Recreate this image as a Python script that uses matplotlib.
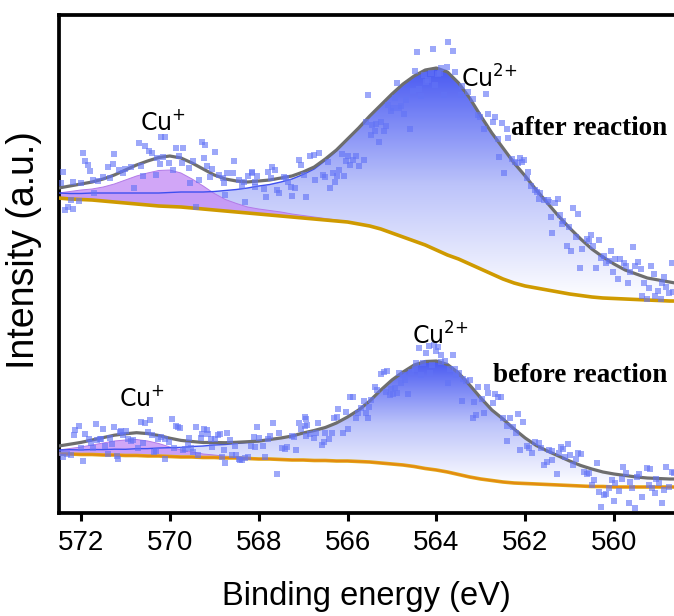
import numpy as np
import matplotlib
matplotlib.use('Agg')
import matplotlib.pyplot as plt
from matplotlib.colors import LinearSegmentedColormap

plt.rcParams['font.family'] = ['Liberation Sans', 'DejaVu Sans']
plt.rcParams['mathtext.fontset'] = 'dejavusans'

# ---------------- data ----------------
energy = np.linspace(572.5, 558.5, 57)   # binding energy grid (eV), 0.25 eV step

# after reaction: Shirley background, Cu+ component, Cu2+ component (heights above background)
bg_after = [317, 316, 315.5, 315, 314, 313, 312, 311, 310, 309, 308.5, 308, 307, 306, 305, 304, 303, 302, 301,
            300, 299, 298, 297, 296, 295, 294, 293, 291, 289, 286, 282, 278, 274, 270, 265, 260, 256, 251, 246,
            241, 236, 232, 229, 227, 225, 223, 221, 219.5, 218, 217, 216.5, 216, 215.5, 215, 214.5, 214, 214]
cu1_after = [5, 7.5, 9.5, 11, 14, 18, 23, 28, 32, 35.5, 36.5, 34, 29, 23, 16.5, 11.5, 8.5, 6, 5, 4.5, 4, 3, 2.5,
             2, 1.5, 1, 0.5] + [0] * 30
cu2_after = [5, 5.5, 6, 7, 8, 9, 10, 11, 12, 13, 14, 15, 16, 17, 18.5, 20.5, 22.5, 25, 28, 30.5, 34, 38, 43.5,
             50, 59.5, 70, 82.5, 96, 110, 124, 139, 153, 165, 175, 182, 183, 176, 166, 153, 141, 131, 120, 110,
             98, 87, 76, 66, 56.5, 48, 41, 34.5, 29, 25.5, 22, 20.5, 19, 17]

# before reaction
bg_before = [61, 61, 60.5, 60.5, 60, 60, 59.5, 59.5, 59, 59, 58.5, 58, 58, 57.5, 57.5, 57, 57, 56.5, 56, 56, 55.5,
             55, 55, 54.5, 54.5, 54, 54, 53.5, 53, 52, 51, 50, 48.5, 46.5, 45, 43, 40.5, 38, 36, 34.5, 33, 32,
             31.5, 31, 30.5, 30, 29.5, 29, 28.5, 28.5, 28, 28, 28, 28, 28, 28, 28]
cu1_before = [4, 5.5, 7.5, 9.5, 12, 14, 15.5, 16, 15, 12.5, 9.5, 7, 5, 3.5, 2.5, 1.8, 1.2, 0.8, 0.4] + [0] * 38
cu2_before = [4, 4.3, 4.6, 5, 5.4, 5.8, 6.2, 6.8, 7.4, 8, 8.8, 9.6, 10.5, 11.5, 12.5, 13.5, 14.5, 16, 17.5, 19.5,
              21.5, 24, 27, 30, 33, 38, 44, 51.5, 61, 73, 84, 93, 101.5, 107, 109, 107.5, 101.5, 92, 81, 70.5, 63,
              54, 45.5, 38.5, 33.5, 29, 24.5, 20.5, 17.5, 14.5, 13, 11.5, 10, 9, 8.5, 8, 8]

# measured points (after reaction)
after_pts = [
    (572.41, 343), (572.46, 332), (572.18, 333), (572.01, 332), (571.96, 362), (571.92, 354), (571.84, 350),
    (571.80, 344), (571.71, 322), (571.73, 335), (572.23, 315), (572.35, 305), (572.29, 308), (572.18, 306),
    (572.05, 314), (571.50, 338), (571.62, 334), (571.35, 337), (571.39, 348), (571.29, 351), (571.25, 361),
    (571.14, 345), (571.05, 342), (571.00, 346), (570.88, 348), (570.80, 327), (570.70, 372), (570.64, 349),
    (570.60, 339), (570.55, 369), (570.47, 364), (570.41, 362), (570.31, 340), (570.28, 357), (570.22, 351),
    (570.19, 378), (570.11, 378), (570.15, 358), (570.03, 352), (569.92, 345), (569.86, 367), (569.79, 359),
    (569.70, 367), (569.73, 352), (569.58, 347), (569.54, 332), (569.48, 354), (569.41, 308), (569.34, 335),
    (569.28, 373), (569.21, 370), (569.24, 357), (569.17, 349), (569.05, 346), (569.09, 338), (568.99, 363),
    (568.90, 340), (568.81, 337), (568.77, 332), (568.75, 320), (568.72, 342), (568.58, 342), (568.55, 354),
    (568.45, 335), (568.38, 329), (568.34, 333), (568.30, 313), (568.23, 339), (568.14, 342), (568.08, 333),
    (568.14, 343), (568.04, 339), (568.09, 328), (567.89, 326), (567.84, 318), (567.80, 343), (567.69, 348),
    (567.64, 345), (567.73, 337), (567.59, 325), (567.54, 322), (567.44, 338), (567.39, 337), (567.34, 333),
    (567.28, 328), (567.24, 319), (567.19, 327), (567.10, 355), (567.05, 350), (566.99, 340), (566.94, 318),
    (566.84, 359), (566.75, 360), (566.65, 362), (566.73, 335), (566.56, 340), (566.51, 338), (566.45, 353),
    (566.40, 327), (566.33, 342), (566.28, 333), (566.24, 339), (566.19, 345), (566.13, 361), (566.09, 339),
    (566.03, 354), (565.99, 359), (565.94, 350), (565.88, 355), (565.81, 359), (565.75, 349), (565.63, 355),
    (565.58, 393), (565.54, 420), (565.48, 380), (565.45, 390), (565.38, 384), (565.36, 391), (565.29, 373),
    (565.24, 393), (565.18, 384), (565.13, 389), (565.09, 410), (565.03, 404), (564.97, 407), (564.93, 417),
    (564.89, 432), (564.84, 407), (564.79, 409), (564.73, 401), (564.69, 415), (564.59, 386), (564.52, 424),
    (564.47, 444), (564.43, 463), (564.39, 426), (564.34, 419), (564.28, 440), (564.23, 433), (564.19, 435),
    (564.13, 442), (564.07, 466), (564.02, 430), (563.96, 441), (563.92, 442), (563.89, 447), (563.83, 420),
    (563.77, 448), (563.74, 473), (563.62, 464), (563.57, 443), (563.45, 420), (563.43, 429),
    (563.28, 423), (563.17, 416), (563.07, 400), (563.02, 398), (562.89, 421), (562.83, 401), (562.92, 386),
    (562.72, 393), (562.68, 398), (562.53, 392), (562.42, 386), (562.62, 376), (562.38, 377), (562.59, 358),
    (562.47, 342), (562.29, 356), (562.23, 353), (562.17, 352), (562.12, 357), (562.08, 353), (562.02, 355),
    (561.97, 337), (561.93, 343), (561.87, 329), (561.79, 325), (561.74, 323), (561.69, 316), (561.66, 322),
    (561.57, 315), (561.49, 315), (561.46, 313), (561.33, 312), (561.27, 316), (561.42, 298), (561.39, 282),
    (561.21, 300), (561.17, 291), (561.14, 294), (561.02, 288), (560.93, 307), (560.81, 301), (561.06, 269),
    (560.96, 264), (560.86, 278), (560.76, 247), (560.71, 266), (560.61, 276), (560.56, 274), (560.51, 280),
    (560.48, 269), (560.41, 247), (560.33, 275), (560.29, 257), (560.23, 259), (560.18, 252), (560.12, 254),
    (560.06, 264), (560.03, 243), (559.98, 256), (559.91, 236), (559.86, 256), (559.78, 252), (559.73, 249),
    (559.68, 232), (559.63, 243), (559.58, 268), (559.52, 249), (559.46, 253), (559.40, 246), (559.37, 219),
    (559.33, 232), (559.25, 216), (559.22, 227), (559.16, 249), (559.10, 241), (559.08, 219), (559.00, 224),
    (558.95, 216), (558.92, 232), (558.88, 238), (558.83, 228), (558.76, 222), (558.70, 252), (558.67, 223),
]

# measured points (before reaction)
before_pts = [
    (572.44, 62), (572.41, 58), (572.31, 61), (572.22, 60), (572.16, 80), (572.13, 85), (572.05, 89),
    (572.01, 67), (571.96, 54), (571.92, 81), (571.83, 76), (571.77, 72), (571.73, 67), (571.67, 91),
    (571.63, 75), (571.58, 76), (571.54, 76), (571.50, 86), (571.45, 69), (571.39, 61), (571.35, 77),
    (571.30, 71), (571.25, 88), (571.20, 59), (571.16, 56), (571.13, 83), (571.09, 84), (571.05, 80),
    (570.98, 84), (570.94, 76), (570.88, 74), (570.83, 75), (570.71, 67), (570.65, 93), (570.60, 72),
    (570.55, 92), (570.49, 83), (570.45, 95), (570.41, 80), (570.35, 63), (570.32, 64), (570.26, 76),
    (570.19, 78), (570.12, 76), (570.11, 56), (570.02, 73), (569.96, 96), (569.90, 67), (569.87, 89),
    (569.81, 88), (569.77, 87), (569.70, 65), (569.66, 66), (569.60, 70), (569.56, 77), (569.52, 67),
    (569.47, 63), (569.42, 88), (569.36, 60), (569.30, 77), (569.27, 81), (569.22, 86), (569.17, 85),
    (569.13, 81), (569.07, 76), (569.04, 68), (568.98, 76), (568.92, 80), (568.88, 81), (568.83, 58),
    (568.79, 65), (568.75, 52), (568.72, 82), (568.64, 75), (568.59, 60), (568.54, 69), (568.50, 60),
    (568.45, 56), (568.41, 55), (568.38, 55), (568.30, 57), (568.23, 58), (568.17, 69), (568.11, 78),
    (568.09, 68), (568.04, 88), (567.99, 77), (567.91, 69), (567.85, 58), (567.79, 76), (567.74, 79),
    (567.68, 92), (567.59, 41), (567.55, 82), (567.47, 67), (567.40, 66), (567.36, 68), (567.25, 79),
    (567.21, 78), (567.17, 65), (567.10, 92), (567.04, 86), (566.95, 98), (566.91, 90), (566.93, 79),
    (566.94, 96), (566.96, 89), (566.84, 81), (566.71, 82), (566.67, 92), (566.75, 77), (566.58, 70),
    (566.52, 73), (566.51, 82), (566.41, 76), (566.36, 82), (566.30, 97), (566.24, 98), (566.21, 106),
    (566.11, 82), (566.03, 103), (566.00, 86), (565.94, 118), (565.88, 118), (565.81, 97), (565.77, 102),
    (565.69, 107), (565.62, 114), (565.58, 102), (565.54, 97), (565.51, 108), (565.47, 115), (565.38, 128),
    (565.33, 125), (565.24, 141), (565.18, 143), (565.11, 144), (565.13, 123), (565.05, 120), (565.02, 126),
    (564.98, 121), (564.94, 127), (564.88, 122), (564.83, 142), (564.79, 132), (564.75, 140), (564.70, 135),
    (564.64, 121), (564.58, 143), (564.49, 146), (564.45, 152), (564.40, 167), (564.35, 140), (564.30, 152),
    (564.23, 162), (564.17, 169), (564.15, 142), (564.10, 150), (564.05, 170), (564.00, 164), (563.96, 168),
    (563.90, 160), (563.89, 153), (563.80, 154), (563.74, 132), (563.70, 146), (563.62, 160), (563.58, 146),
    (563.55, 140), (563.49, 142), (563.43, 114), (563.40, 136), (563.34, 134), (563.25, 135), (563.17, 97),
    (563.15, 113), (563.10, 100), (563.06, 128), (562.98, 116), (562.92, 102), (562.87, 128), (562.83, 122),
    (562.72, 112), (562.68, 121), (562.61, 118), (562.55, 118), (562.49, 97), (562.42, 74), (562.40, 89),
    (562.34, 97), (562.27, 88), (562.21, 82), (562.17, 101), (562.12, 65), (562.06, 93), (561.97, 69),
    (561.91, 67), (561.84, 62), (561.78, 73), (561.70, 72), (561.64, 67), (561.57, 50), (561.51, 53),
    (561.46, 65), (561.40, 64), (561.39, 55), (561.29, 41), (561.25, 62), (561.19, 68), (561.14, 66),
    (561.10, 58), (561.04, 71), (560.99, 60), (560.93, 50), (560.86, 56), (560.80, 62), (560.74, 61),
    (560.68, 43), (560.61, 41), (560.56, 42), (560.50, 30), (560.44, 35), (560.38, 52), (560.33, 23),
    (560.29, 8), (560.23, 20), (560.18, 21), (560.12, 27), (560.04, 35), (560.01, 14), (559.97, 32),
    (559.89, 24), (559.83, 36), (559.80, 48), (559.74, 42), (559.67, 12), (559.63, 33), (559.59, 27),
    (559.53, 7), (559.48, 38), (559.43, 41), (559.37, 18), (559.25, 47), (559.22, 30), (559.18, 46),
    (559.14, 27), (559.08, 22), (559.05, 36), (558.99, 32), (558.93, 12), (558.88, 25), (558.84, 48),
    (558.76, 28), (558.70, 43), (558.65, 42),
]

xticks = [572, 570, 568, 566, 564, 562, 560]
xlabel = 'Binding energy (eV)'
ylabel = 'Intensity (a.u.)'

# ---------------- plot ----------------
fig = plt.figure(figsize=(6.74, 6.16), dpi=100)
ax = fig.add_axes([58.8 / 674, 103.3 / 616, 615.2 / 674, 498 / 616])

grad_cmap = LinearSegmentedColormap.from_list(
    'cu2', [(0.0, '#ffffff'), (0.5, '#bcc3fa'), (1.0, '#4859f2')])


def draw_spectrum(bg, cu1, cu2, pts, bg_colors):
    bg = np.asarray(bg, float)
    cu1 = np.asarray(cu1, float)
    cu2 = np.asarray(cu2, float)
    upper2 = bg + cu2
    total = bg + cu1 + cu2
    # Cu2+ gradient fill
    poly = ax.fill_between(energy, bg, upper2, facecolor='none', edgecolor='none')
    path = poly.get_paths()[0]
    grad = np.linspace(0, 1, 256).reshape(-1, 1)
    im = ax.imshow(grad, extent=[energy.max(), energy.min(), bg.min(), upper2.max()],
                   origin='lower', aspect='auto', cmap=grad_cmap, zorder=1, interpolation='bilinear')
    im.set_clip_path(path, transform=ax.transData)
    # Cu+ fill
    ax.fill_between(energy, bg, bg + cu1, where=cu1 > 0, facecolor='#c690f6', alpha=0.8,
                    edgecolor='none', zorder=2)
    m = cu1 > 0
    ax.plot(energy[m], (bg + cu1)[m], color='#b27ae8', lw=0.7, zorder=2.5)
    # Cu2+ component line
    ax.plot(energy, upper2, color='#3d4ff0', lw=1.0, zorder=3)
    # background
    ax.plot(energy, bg, color=bg_colors[0], lw=2.6, zorder=4, solid_capstyle='butt')
    if len(bg_colors) > 1:
        ax.plot(energy, bg, color=bg_colors[1], lw=1.4, zorder=4.1, solid_capstyle='butt')
    # envelope
    ax.plot(energy, total, color='#6e6e6e', lw=2.3, zorder=5)
    # data points
    px = [p[0] for p in pts]
    py = [p[1] for p in pts]
    ax.scatter(px, py, marker='s', s=14, color='#6273f6', alpha=0.62, linewidths=0, zorder=6)


draw_spectrum(bg_after, cu1_after, cu2_after, after_pts, ['#cf9a00'])
draw_spectrum(bg_before, cu1_before, cu2_before, before_pts, ['#e0a81a', '#e58a10'])

ax.set_xlim(572.5, 558.65)
ax.set_ylim(2.3, 500.3)

# labels on peaks
lab_kw = dict(fontsize=17, family=['DejaVu Sans'], ha='center', va='center', zorder=7)
ax.text(570.15, 393, r'Cu$^{+}$', **lab_kw)
ax.text(562.82, 436, r'Cu$^{2{+}}$', **lab_kw)
ax.text(570.63, 116, r'Cu$^{+}$', **lab_kw)
ax.text(563.91, 179, r'Cu$^{2{+}}$', **lab_kw)

ser_kw = dict(fontsize=19.5, fontweight='bold', family=['Liberation Serif'], ha='right', va='center', zorder=7)
ax.text(558.81, 387, 'after reaction', **ser_kw)
ax.text(558.81, 140, 'before reaction', **ser_kw)

# axes styling
for side in ['left', 'bottom', 'top']:
    ax.spines[side].set_linewidth(2.7)
ax.spines['right'].set_visible(False)
ax.set_xticks(xticks)
ax.set_xticklabels([str(t) for t in xticks])
ax.set_yticks([])
ax.tick_params(axis='x', direction='out', length=5.5, width=2.2, labelsize=20, pad=7)

ax.set_xlabel(xlabel, fontsize=23.5, labelpad=18)
ax.set_ylabel(ylabel, fontsize=27)
ax.yaxis.set_label_coords(-0.027, 0.527)

fig.savefig('out.png', dpi=100)
